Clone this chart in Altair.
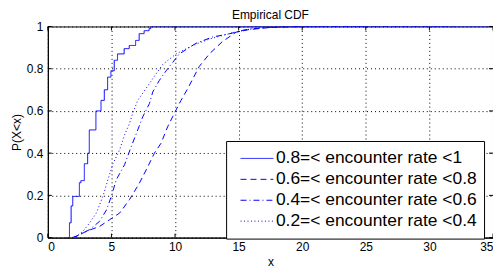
import altair as alt
import pandas as pd

series_names = [
    "0.8=< encounter rate <1",
    "0.6=< encounter rate <0.8",
    "0.4=< encounter rate <0.6",
    "0.2=< encounter rate <0.4",
]

# 0.8 =< rate < 1 (step ECDF)
x_s1 = [1.41, 1.70, 1.83, 1.96, 2.48, 2.60, 2.87, 3.13, 3.26, 3.78, 4.18, 4.44, 4.70, 4.96,
        5.22, 5.48, 6.00, 6.40, 6.90, 7.18, 7.57, 7.96, 8.09, 35.0]
y_s1 = [0.00, 0.07, 0.15, 0.195, 0.26, 0.27, 0.35, 0.40, 0.51, 0.60, 0.65, 0.70, 0.76, 0.79,
        0.84, 0.87, 0.895, 0.91, 0.934, 0.966, 0.98, 0.99, 1.00, 1.00]

# 0.6 =< rate < 0.8
x_s2 = [1.9, 2.25, 3.03, 4.07, 4.86, 5.64, 6.42, 7.2, 7.86, 8.38, 8.9, 9.42, 9.94, 10.47,
        11.0, 11.9, 12.7, 13.7, 14.8, 15.8, 17.4, 19.5, 22.0, 32.0]
y_s2 = [0.0, 0.006, 0.03, 0.053, 0.085, 0.116, 0.18, 0.258, 0.336, 0.40, 0.447, 0.525, 0.588, 0.65,
        0.706, 0.81, 0.87, 0.927, 0.973, 0.985, 0.995, 0.999, 1.0, 1.0]

# 0.4 =< rate < 0.6
x_s3 = [2.0, 2.5, 3.29, 4.07, 4.6, 4.99, 5.38, 6.03, 6.55, 7.07, 7.46, 7.99, 8.25, 8.77,
        9.3, 10.34, 11.64, 12.94, 14.25, 15.56, 17.0, 19.0, 25.0]
y_s3 = [0.0, 0.014, 0.038, 0.077, 0.13, 0.195, 0.274, 0.345, 0.43, 0.51, 0.572, 0.635, 0.69, 0.745,
        0.79, 0.87, 0.92, 0.95, 0.965, 0.985, 0.995, 1.0, 1.0]

# 0.2 =< rate < 0.4
x_s4 = [1.9, 2.25, 2.77, 3.29, 3.81, 4.33, 4.72, 5.12, 5.64, 6.03, 6.42, 6.68, 7.07, 7.99,
        9.03, 10.08, 11.38, 12.69, 14.5, 16.1, 18.0, 20.0]
y_s4 = [0.0, 0.006, 0.03, 0.07, 0.116, 0.195, 0.274, 0.35, 0.415, 0.486, 0.54, 0.59, 0.65, 0.73,
        0.82, 0.87, 0.91, 0.94, 0.97, 0.99, 0.997, 1.0]

x_ticks = [0, 5, 10, 15, 20, 25, 30, 35]
y_ticks = [0, 0.2, 0.4, 0.6, 0.8, 1]

rows = []
for name, xs, ys in zip(series_names, [x_s1, x_s2, x_s3, x_s4], [y_s1, y_s2, y_s3, y_s4]):
    for i, (a, b) in enumerate(zip(xs, ys)):
        rows.append({"series": name, "x": a, "y": b, "order": i})
df = pd.DataFrame(rows)

FONT = "Liberation Sans"
BLUE = "#0000ff"
W, H = 447, 212

xscale = alt.Scale(domain=[0, 35], nice=False, zero=False)
yscale = alt.Scale(domain=[0, 1], nice=False, zero=False)

x_axis = alt.Axis(values=x_ticks, title="x", grid=True, ticks=False, tickSize=0,
                  labelPadding=4, titlePadding=4, format="d")
y_axis = alt.Axis(values=y_ticks, title="P(X<x)", grid=True, ticks=False, tickSize=0,
                  labelPadding=5, titlePadding=3,
                  labelExpr="datum.value == 0 ? '0' : datum.value == 1 ? '1' : format(datum.value, '.1f')")

dash_scale = alt.Scale(domain=series_names,
                       range=[[1, 0], [6, 4], [6, 3, 1, 3], [1, 2.5]])

legend = alt.Legend(title=None, orient="none", legendX=179, legendY=115,
                    strokeColor="black", fillColor="white", padding=7,
                    labelFont=FONT, labelFontSize=17.5, labelColor="black", labelLimit=400,
                    symbolType="stroke", symbolSize=1089, symbolStrokeWidth=1,
                    symbolStrokeColor=BLUE, symbolOffset=7, clipHeight=21, rowPadding=0,
                    labelOffset=2, cornerRadius=0)

base = alt.Chart(df)

solid = base.transform_filter(alt.datum.series == series_names[0]).mark_line(
    color=BLUE, strokeWidth=1, interpolate="step-after", clip=True
).encode(
    x=alt.X("x:Q", scale=xscale, axis=x_axis),
    y=alt.Y("y:Q", scale=yscale, axis=y_axis),
    strokeDash=alt.StrokeDash("series:N", scale=dash_scale, legend=legend),
    order="order:Q",
)

others = base.transform_filter(alt.datum.series != series_names[0]).mark_line(
    color=BLUE, strokeWidth=1, clip=True
).encode(
    x=alt.X("x:Q", scale=xscale, axis=x_axis),
    y=alt.Y("y:Q", scale=yscale, axis=y_axis),
    strokeDash=alt.StrokeDash("series:N", scale=dash_scale, legend=legend),
    order="order:Q",
)

xt = pd.DataFrame({"x": x_ticks})
yt = pd.DataFrame({"y": y_ticks})
tick_bottom = alt.Chart(xt).mark_rule(color="black", strokeWidth=1).encode(
    x=alt.X("x:Q", scale=xscale), y=alt.value(H), y2=alt.value(H - 4))
tick_top = alt.Chart(xt).mark_rule(color="black", strokeWidth=1).encode(
    x=alt.X("x:Q", scale=xscale), y=alt.value(0), y2=alt.value(4))
tick_left = alt.Chart(yt).mark_rule(color="black", strokeWidth=1).encode(
    y=alt.Y("y:Q", scale=yscale), x=alt.value(0), x2=alt.value(4))
tick_right = alt.Chart(yt).mark_rule(color="black", strokeWidth=1).encode(
    y=alt.Y("y:Q", scale=yscale), x=alt.value(W), x2=alt.value(W - 4))

chart = alt.layer(others, solid, tick_bottom, tick_top, tick_left, tick_right).properties(
    width=W, height=H,
    title=alt.TitleParams("Empirical CDF", font=FONT, fontSize=12, fontWeight="normal",
                          color="black", offset=-1),
    autosize="none",
    padding={"left": 40, "top": 18, "right": 0, "bottom": 36},
).configure_view(
    stroke="black", strokeWidth=1
).configure_axis(
    labelFont=FONT, labelFontSize=12, labelColor="black",
    titleFont=FONT, titleFontSize=12, titleFontWeight="normal", titleColor="black",
    domainColor="black", domainWidth=1,
    gridColor="black", gridDash=[1, 3], gridOpacity=1, gridWidth=1,
).configure_legend(
    symbolStrokeColor=BLUE
)

chart.save("out.html", embed_options={"renderer": "svg", "actions": False})
